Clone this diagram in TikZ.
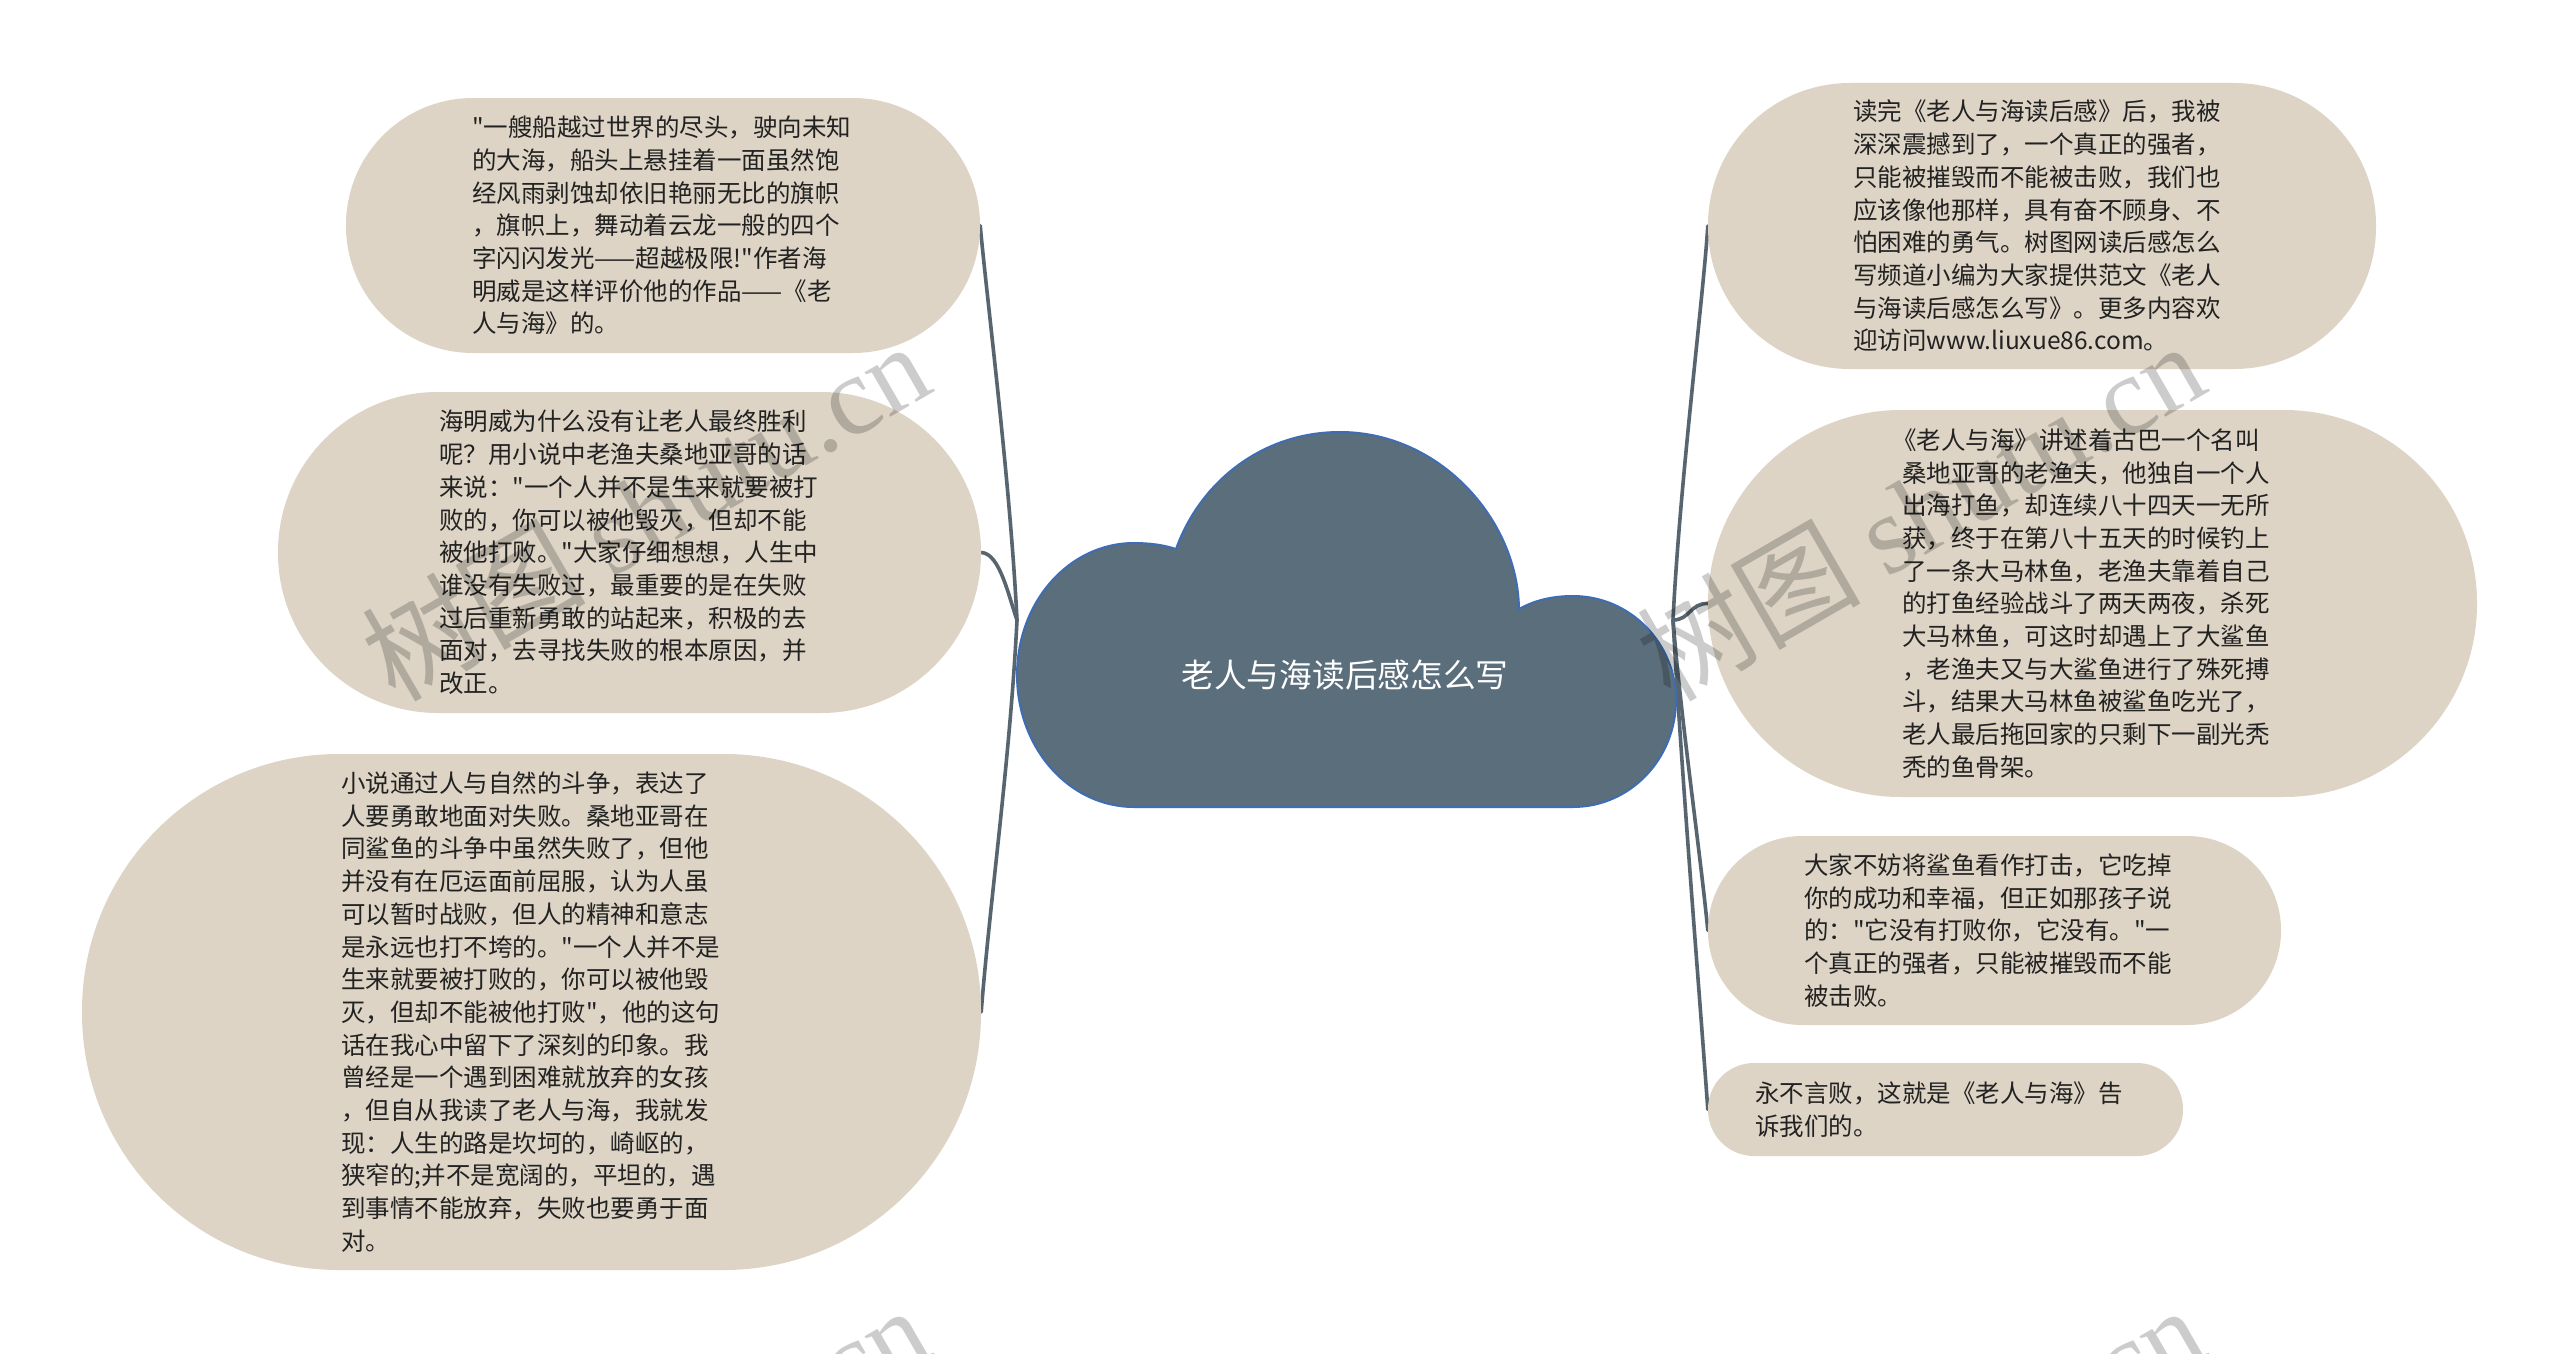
\documentclass[tikz,border=0pt]{standalone}
\usepackage{fontspec}
\newfontfamily\cjk{Noto Sans CJK SC}
\newfontfamily\wmserif{Liberation Serif}
\usetikzlibrary{backgrounds}
\definecolor{bub}{HTML}{DDD4C5}
\definecolor{linkc}{HTML}{56656F}
\definecolor{cloudc}{HTML}{5B6E7B}
\definecolor{cloudb}{HTML}{3F6DB3}
\definecolor{txtc}{HTML}{222222}
\begin{document}
\begin{tikzpicture}[x=1pt,y=-1pt,
  bubble/.style={draw=none, fill=bub, rectangle, inner sep=0pt},
  txt/.style={anchor=west, align=left, inner sep=0pt, text=txtc, font=\cjk\fontsize{24.5}{32.7}\selectfont},
  link/.style={draw=linkc, line width=3.6pt, line cap=round},
  wm/.style={rotate=30, text=black, text opacity=0.2, inner sep=0pt, font=\cjk\fontsize{112}{116}\selectfont},
  cloudshape/.style={fill=cloudc, draw=cloudb, line width=2pt},
]
\useasboundingbox (0,0) rectangle (2560,1354);

% bubbles
\node[bubble, minimum width=634pt, minimum height=255pt, rounded corners=127pt] (n1) at (663,225.5) {};
\node[bubble, minimum width=703pt, minimum height=321pt, rounded corners=160pt] (n2) at (629.5,552.5) {};
\node[bubble, minimum width=899pt, minimum height=516pt, rounded corners=257pt] (n3) at (531.5,1012) {};
\node[bubble, minimum width=668pt, minimum height=286pt, rounded corners=142pt] (n4) at (2042,226) {};
\node[bubble, minimum width=769pt, minimum height=387pt, rounded corners=193pt] (n5) at (2092.5,603.5) {};
\node[bubble, minimum width=573pt, minimum height=189pt, rounded corners=94pt] (n6) at (1994.5,930.5) {};
\node[bubble, minimum width=475pt, minimum height=93pt, rounded corners=46pt] (n7) at (1945.5,1109.5) {};

% cloud
\path[cloudshape] (1134,807) .. controls (1069,807) and (1017,748) .. (1017,675)
 .. controls (1017,602) and (1069,543) .. (1134,543)
 .. controls (1150,543) and (1164,545) .. (1176,549)
 .. controls (1200,482) and (1262,432) .. (1340,432)
 .. controls (1440,432) and (1518,520) .. (1519,609)
 .. controls (1535,600) and (1553,596) .. (1573,596)
 .. controls (1630,596) and (1676,643) .. (1676,700)
 .. controls (1676,759) and (1630,807) .. (1573,807)
 -- cycle;
\node[inner sep=0pt, text=white, font=\cjk\fontsize{32.7}{36}\selectfont] (root) at (1345,675) {老人与海读后感怎么写};

\coordinate (JL) at (1017,620);
\coordinate (JR) at (1673,620);

% texts
\node[txt] (t1) at (472,225.5) {"一艘船越过世界的尽头，驶向未知\\的大海，船头上悬挂着一面虽然饱\\经风雨剥蚀却依旧艳丽无比的旗帜\\，旗帜上，舞动着云龙一般的四个\\字闪闪发光——超越极限!"作者海\\明威是这样评价他的作品——《老\\人与海》的。};
\node[txt] (t2) at (439,552.5) {海明威为什么没有让老人最终胜利\\呢？用小说中老渔夫桑地亚哥的话\\来说："一个人并不是生来就要被打\\败的，你可以被他毁灭，但却不能\\被他打败。"大家仔细想想，人生中\\谁没有失败过，最重要的是在失败\\过后重新勇敢的站起来，积极的去\\面对，去寻找失败的根本原因，并\\改正。};
\node[txt] (t3) at (341,1012) {小说通过人与自然的斗争，表达了\\人要勇敢地面对失败。桑地亚哥在\\同鲨鱼的斗争中虽然失败了，但他\\并没有在厄运面前屈服，认为人虽\\可以暂时战败，但人的精神和意志\\是永远也打不垮的。"一个人并不是\\生来就要被打败的，你可以被他毁\\灭，但却不能被他打败"，他的这句\\话在我心中留下了深刻的印象。我\\曾经是一个遇到困难就放弃的女孩\\，但自从我读了老人与海，我就发\\现：人生的路是坎坷的，崎岖的，\\狭窄的;并不是宽阔的，平坦的，遇\\到事情不能放弃，失败也要勇于面\\对。};
\node[txt] (t4) at (1853,226) {读完《老人与海读后感》后，我被\\深深震撼到了，一个真正的强者，\\只能被摧毁而不能被击败，我们也\\应该像他那样，具有奋不顾身、不\\怕困难的勇气。树图网读后感怎么\\写频道小编为大家提供范文《老人\\与海读后感怎么写》。更多内容欢\\迎访问www.liuxue86.com。};
\node[txt] (t5) at (1902,603.5) {\hspace*{-0.4em}《老人与海》讲述着古巴一个名叫\\桑地亚哥的老渔夫，他独自一个人\\出海打鱼，却连续八十四天一无所\\获，终于在第八十五天的时候钓上\\了一条大马林鱼，老渔夫靠着自己\\的打鱼经验战斗了两天两夜，杀死\\大马林鱼，可这时却遇上了大鲨鱼\\，老渔夫又与大鲨鱼进行了殊死搏\\斗，结果大马林鱼被鲨鱼吃光了，\\老人最后拖回家的只剩下一副光秃\\秃的鱼骨架。};
\node[txt] (t6) at (1804,930.5) {大家不妨将鲨鱼看作打击，它吃掉\\你的成功和幸福，但正如那孩子说\\的："它没有打败你，它没有。"一\\个真正的强者，只能被摧毁而不能\\被击败。};
\node[txt] (t7) at (1755,1109.5) {永不言败，这就是《老人与海》告\\诉我们的。};

% background and connectors
\begin{scope}[on background layer]
\fill[white] (0,0) rectangle (2560,1354);
\draw[link] (JL) .. controls (1010,480) and (987,300) .. (n1.east);
\draw[link] (JL) .. controls (1009,598) and (1000,553) .. (n2.east);
\draw[link] (JL) .. controls (1010,760) and (990,900) .. (n3.east);
\draw[link] (JR) .. controls (1680,480) and (1703,300) .. (n4.west);
\draw[link] (JR) .. controls (1690,620) and (1690,603) .. (n5.west);
\draw[link] (JR) .. controls (1681,720) and (1700,850) .. (n6.west);
\draw[link] (JR) .. controls (1682,780) and (1700,1000) .. (n7.west);
\end{scope}

% watermarks
\begin{scope}
\clip (0,0) rectangle (2560,1354);
\node[wm] (wm1) at (645,510) {树图 {\wmserif shutu.cn}};
\node[wm] (wm2) at (1920,510) {树图 {\wmserif shutu.cn}};
\node[wm] (wm3) at (645,1474) {树图 {\wmserif shutu.cn}};
\node[wm] (wm4) at (1920,1474) {树图 {\wmserif shutu.cn}};
\end{scope}
\end{tikzpicture}
\end{document}
